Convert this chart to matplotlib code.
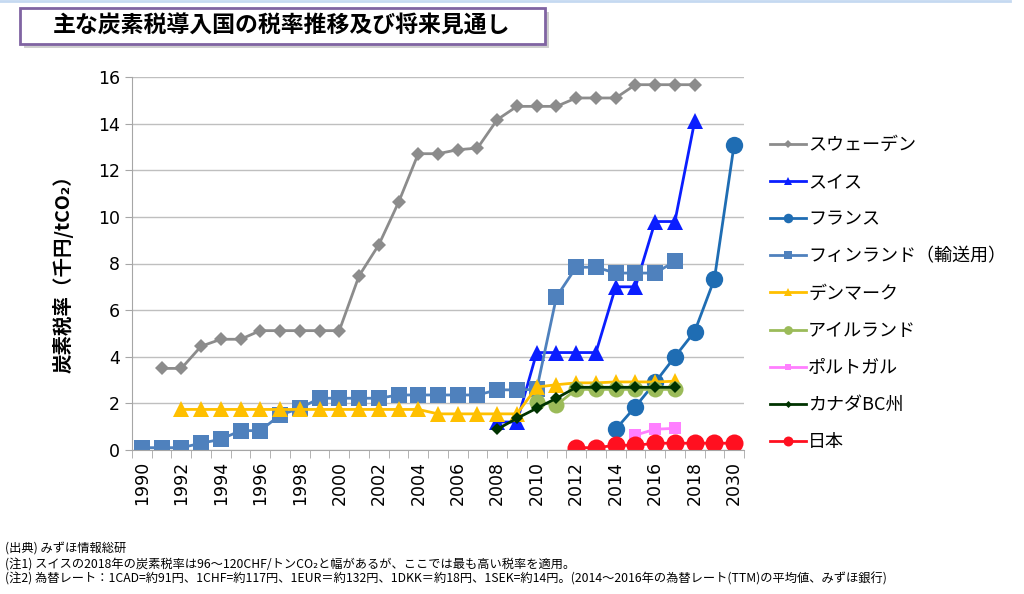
import numpy as np
import matplotlib
matplotlib.use("Agg")
import matplotlib.pyplot as plt
from matplotlib.patches import Rectangle

plt.rcParams['font.family'] = ['Noto Sans CJK JP', 'DejaVu Sans']

nan = np.nan

# categories: 1990..2018, then 2020 (no label shown) and 2030
years = [str(y) for y in range(1990, 2019)] + ['2020', '2030']

sweden = [nan, 3.5, 3.5, 4.45, 4.75, 4.75, 5.12, 5.12, 5.12, 5.12, 5.12,
          7.47, 8.8, 10.62, 12.71, 12.71, 12.88, 12.95, 14.17, 14.74, 14.74,
          14.74, 15.1, 15.1, 15.1, 15.67, 15.67, 15.67, 15.67, nan, nan]
swiss = [nan] * 18 + [1.2, 1.2, 4.18, 4.18, 4.18, 4.18, 7.0, 7.0, 9.8, 9.8, 14.1, nan, nan]
france = [nan] * 24 + [0.89, 1.86, 2.9, 4.0, 5.08, 7.33, 13.1]
finland = [0.1, 0.1, 0.1, 0.29, 0.46, 0.83, 0.83, 1.5, 1.79, 2.22, 2.22,
           2.22, 2.22, 2.36, 2.36, 2.36, 2.36, 2.36, 2.58, 2.58, 2.6,
           6.57, 7.84, 7.84, 7.59, 7.59, 7.59, 8.09, nan, nan, nan]
denmark = [nan, nan] + [1.74] * 13 + [1.55, 1.55, 1.55, 1.55, 1.55,
           2.7, 2.8, 2.88, 2.88, 2.92, 2.92, 2.92, 2.95, nan, nan, nan]
ireland = [nan] * 20 + [2.07, 1.93, 2.6, 2.6, 2.6, 2.6, 2.6, 2.6, nan, nan, nan]
portugal = [nan] * 25 + [0.64, 0.89, 0.93, nan, nan, nan]
canada = [nan] * 18 + [0.89, 1.36, 1.79, 2.22, 2.69, 2.69, 2.69, 2.69, 2.69, 2.69, nan, nan, nan]
japan = [nan] * 22 + [0.1, 0.1, 0.2, 0.2, 0.29, 0.29, 0.29, 0.29, 0.29]

series = [
    ('スウェーデン', sweden, '#8C8C8C', 'D', 7.5),
    ('スイス', swiss, '#0A1EFF', '^', 11),
    ('フランス', france, '#1F6DB3', 'o', 12.5),
    ('フィンランド（輸送用）', finland, '#4F81BD', 's', 11),
    ('デンマーク', denmark, '#FFC000', '^', 11),
    ('アイルランド', ireland, '#9BBB59', 'o', 11.5),
    ('ポルトガル', portugal, '#FF7FFF', 's', 8.5),
    ('カナダBC州', canada, '#003300', 'D', 6.5),
    ('日本', japan, '#FF1020', 'o', 13),
]

fig = plt.figure(figsize=(10.24, 5.94), dpi=100)
ax = fig.add_axes([132 / 1024, 144 / 594, 612 / 1024, 373 / 594])

x = np.arange(len(years))
handles = []
for name, vals, col, mk, ms in series:
    h, = ax.plot(x, np.array(vals, dtype=float), color=col, lw=2, marker=mk,
                 ms=ms, mec=col, mfc=col, mew=0, label=name)
    handles.append(h)

ax.set_xlim(-0.5, len(years) - 0.5)
ax.set_ylim(0, 16)
ax.set_yticks(range(0, 17, 2))
ax.set_xticks(x[::2])
ax.set_xticklabels(years[::2], rotation=90, family='DejaVu Sans', fontsize=12.5)
ax.set_xticks(np.arange(-0.5, len(years), 1), minor=True)
ax.tick_params(axis='x', which='major', length=0, pad=8)
ax.tick_params(axis='x', which='minor', length=6, color='#A6A6A6')
ax.tick_params(axis='y', length=5, color='#A6A6A6', labelsize=12.5)
for t in ax.get_yticklabels():
    t.set_family('DejaVu Sans')
ax.grid(axis='y', color='#BFBFBF', lw=1)
ax.set_axisbelow(True)
for s in ['top', 'right']:
    ax.spines[s].set_visible(False)
for s in ['left', 'bottom']:
    ax.spines[s].set_color('#A6A6A6')

fig.text(63 / 1024, 1 - 269 / 594, '炭素税率（千円/tCO₂）', fontsize=14, fontweight='bold',
         rotation=90, ha='center', va='center')

leg = fig.legend(handles=handles, loc='upper left', bbox_to_anchor=(754 / 1024, 1 - 120 / 594),
                 frameon=False, fontsize=13, markerscale=0.55, handlelength=2.0,
                 handletextpad=0.1, labelspacing=1.06)

# title box
fig.patches.append(Rectangle((24 / 1024, 1 - 48 / 594), 525 / 1024, 36 / 594,
                             transform=fig.transFigure, facecolor='#B0B0B0',
                             edgecolor='none', alpha=0.6, zorder=1))
fig.patches.append(Rectangle((20 / 1024, 1 - 44 / 594), 525 / 1024, 36 / 594,
                             transform=fig.transFigure, facecolor='white',
                             edgecolor='#8064A2', lw=2, zorder=2))
fig.text(282 / 1024, 1 - 26 / 594, '主な炭素税導入国の税率推移及び将来見通し',
         fontsize=16.5, fontweight='bold', ha='center', va='center', zorder=3)
fig.add_artist(plt.Line2D([0, 1010 / 1024], [1 - 1 / 594, 1 - 1 / 594],
                          transform=fig.transFigure, color='#C5D9F1', lw=2))

notes = [
    '(出典) みずほ情報総研',
    '(注1) スイスの2018年の炭素税率は96～120CHF/トンCO₂と幅があるが、ここでは最も高い税率を適用。',
    '(注2) 為替レート：1CAD=約91円、1CHF=約117円、1EUR＝約132円、1DKK＝約18円、1SEK=約14円。(2014～2016年の為替レート(TTM)の平均値、みずほ銀行)',
]
for i, n in enumerate(notes):
    fig.text(5 / 1024, 1 - (549 + i * 15) / 594, n, fontsize=8.8, va='center')

fig.savefig('out.png', dpi=100)
